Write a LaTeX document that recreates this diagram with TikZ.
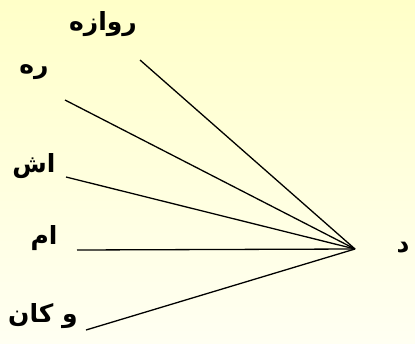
\documentclass[tikz,border=0pt]{standalone}
\usepackage{fontspec}
\newfontfamily\arabicfont[Script=Arabic]{DejaVu Sans}
\TeXXeTstate=1
\begin{document}
\begin{tikzpicture}[x=1pt,y=-1pt,
  lbl/.style={font=\arabicfont\bfseries\fontsize{25}{28}\selectfont, inner sep=0pt, anchor=center},
  spoke/.style={draw=black, line width=1.3pt}]
\useasboundingbox (0,0) rectangle (415,343);
\clip (0,0) rectangle (415,343);
\shade[top color={rgb,255:red,255;green,255;blue,200}, bottom color={rgb,255:red,255;green,255;blue,242}] (0,0) rectangle (415,343);
\node[lbl] (l1) at (103,24) {\beginR روازه\endR};
\node[lbl] (l2) at (34,72) {\beginR ره\endR};
\node[lbl] (l3) at (34,166) {\beginR اش\endR};
\node[lbl] (l4) at (44,238) {\beginR ام\endR};
\node[lbl] (l5) at (43,316) {\beginR و کان\endR};
\node[lbl] (l6) at (403,248) {\beginR د\endR};
\coordinate (hub) at (355,249);
\coordinate (s1) at (140,60);
\coordinate (s2) at (65,100);
\coordinate (s3) at (66,177);
\coordinate (s4) at (77,250);
\coordinate (s5) at (86,330);
\foreach \s in {s1,s2,s3,s4,s5} \draw[spoke] (\s) -- (hub);
\end{tikzpicture}
\end{document}
